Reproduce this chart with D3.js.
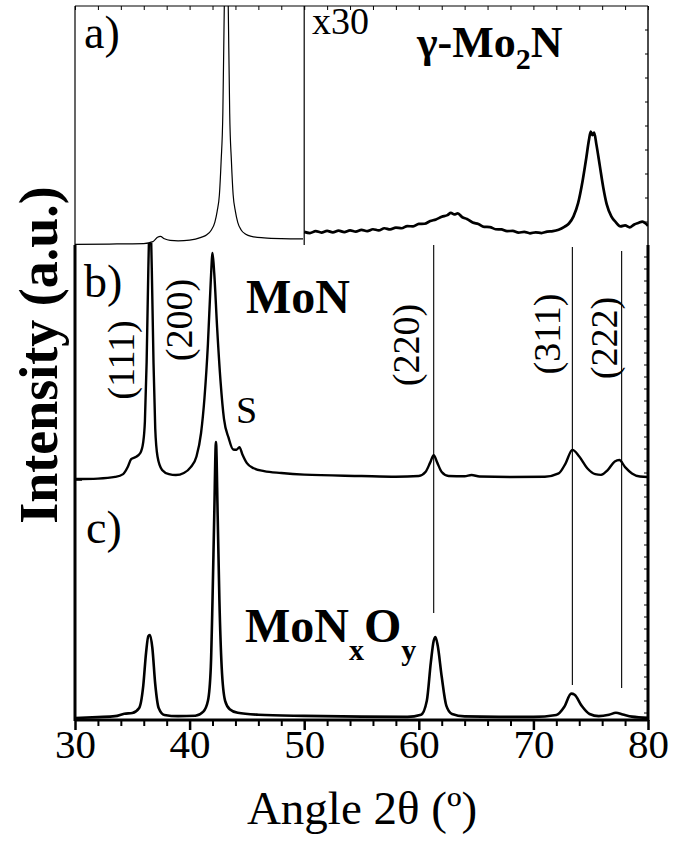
<!DOCTYPE html>
<html>
<head>
<meta charset="utf-8">
<script src="https://cdn.jsdelivr.net/npm/d3@7"></script>
<style>
  html, body { margin: 0; padding: 0; background: #fff; }
  svg { display: block; }
  text { font-family: "Liberation Serif", "Times New Roman", serif; fill: #000; }
</style>
</head>
<body>
<svg id="chart" width="673" height="847"></svg>
<script>
// ---------------- DATA ----------------
// Panel a) gamma-Mo2N, 30-50 deg part (full scale)
const aLeftAngle = [30, 33, 36, 36.8, 37.2, 37.45, 37.8, 38.3, 39, 40, 41, 41.5, 41.9, 42.2, 42.4, 42.6, 42.75, 42.9, 43.0, 43.1, 43.2, 43.3, 43.4, 43.5, 43.65, 43.8, 44.0, 44.2, 44.5, 44.9, 45.4, 46.5, 48, 49.9];
const aLeftInt   = [0.3, 0.4, 0.6, 1.4, 3.2, 3.6, 2.6, 1.9, 1.7, 2.0, 3.2, 4.3, 6.3, 9.5, 14, 21, 35, 55, 90, 130, 200, 130, 90, 55, 35, 21, 14, 9.5, 6.3, 4.5, 3.6, 3.0, 2.7, 2.6];
// Panel a) 50-80 deg part (x30)
const aRightAngle = [50, 50.5, 51, 51.5, 52, 52.5, 53, 53.5, 54, 54.5, 55, 55.5, 56, 56.5, 57, 57.5, 58, 58.5, 59, 59.5, 60, 60.5, 61, 61.5, 62, 62.5, 62.8, 63.1, 63.4, 63.8, 64.2, 64.7, 65.2, 65.7, 66.2, 66.7, 67.2, 67.7, 68.2, 68.7, 69.2, 69.7, 70.2, 70.7, 71.2, 71.7, 72.2, 72.7, 73.1, 73.5, 73.9, 74.3, 74.6, 74.85, 75.0, 75.15, 75.3, 75.5, 75.8, 76.1, 76.4, 76.8, 77.2, 77.6, 78.0, 78.4, 78.8, 79.2, 79.5, 79.8, 80];
const aRightInt   = [5.5, 5.0, 5.8, 5.2, 5.9, 5.3, 6.0, 5.4, 6.1, 5.6, 6.3, 5.8, 6.6, 6.1, 7.0, 6.5, 7.3, 7.0, 7.9, 7.8, 8.8, 8.9, 10.0, 10.7, 11.8, 12.5, 13.4, 12.8, 13.2, 11.6, 10.9, 9.4, 8.8, 7.6, 7.5, 6.6, 6.5, 5.8, 5.9, 5.2, 5.5, 4.9, 5.3, 5.0, 5.6, 5.8, 6.4, 7.6, 9.0, 12.0, 17.5, 27, 36, 44, 47.5, 46, 47, 42, 33, 24, 17, 12, 9.5, 7.8, 8.2, 7.4, 8.6, 9.3, 9.8, 9.0, 8.0];
// Panel b) MoN
const bAngle = [30, 32, 33.5, 34.2, 34.6, 34.9, 35.3, 35.7, 35.95, 36.1, 36.25, 36.4, 36.55, 36.7, 36.85, 37.0, 37.2, 37.6, 38.2, 38.8, 39.5, 40.1, 40.6, 41.0, 41.3, 41.6, 41.85, 42.0, 42.15, 42.4, 42.7, 43.0, 43.4, 43.8, 44.1, 44.35, 44.6, 45.0, 45.6, 46.5, 48, 50, 55, 58, 60, 60.6, 61.0, 61.3, 61.6, 62.0, 62.6, 64.0, 64.6, 65.3, 68, 71, 72.2, 72.8, 73.4, 74.0, 74.7, 75.4, 75.9, 76.5, 77.1, 77.5, 78.0, 78.6, 79.3, 80];
const bInt   = [0.4, 0.6, 1.3, 2.5, 5.5, 8.9, 9.8, 11.5, 16, 25, 50, 90, 115, 90, 50, 22, 10, 4.3, 2.5, 2.1, 3.0, 5.5, 10, 20, 35, 58, 85, 96.6, 88, 65, 42, 26, 18, 13.0, 12.9, 14.0, 11, 7.2, 5.0, 3.8, 3.0, 2.3, 1.7, 1.4, 1.7, 3.5, 7.5, 10.6, 7.5, 3.4, 1.7, 1.6, 2.1, 1.5, 1.3, 1.4, 2.8, 7, 12.8, 10, 5, 2.5, 2.2, 4.3, 7.9, 8.5, 5.5, 2.8, 1.5, 1.3];
// Panel c) MoNxOy
const cAngle = [30, 32, 33.5, 34.3, 35.0, 35.6, 35.95, 36.2, 36.4, 36.55, 36.75, 37.0, 37.3, 37.8, 39, 40.5, 41.2, 41.6, 41.85, 42.0, 42.15, 42.3, 42.45, 42.6, 42.8, 43.1, 43.5, 44.2, 46, 50, 55, 59, 60.2, 60.7, 61.05, 61.3, 61.45, 61.65, 62.0, 62.4, 62.9, 64, 67, 70, 72, 72.7, 73.3, 73.6, 74.2, 74.9, 75.7, 76.6, 77.2, 77.8, 78.6, 80];
const cInt   = [0.8, 1.2, 1.6, 2.6, 2.9, 5, 14, 28, 35, 35.4, 30, 15, 5, 2.1, 1.6, 1.8, 3.5, 8, 22, 50, 85, 115.8, 85, 50, 22, 8, 4.5, 3.0, 2.2, 1.7, 1.4, 1.3, 2.2, 8, 24, 33, 34.6, 31, 18, 6, 2.5, 1.5, 1.3, 1.3, 2.1, 5.5, 11, 10.5, 6, 2.5, 1.6, 2.2, 3.0, 2.3, 1.4, 0.9];

// Reflection markers (MoN)
const hklLabels = ["(111)", "(200)", "(220)", "(311)", "(222)"];
const refLineAngles = [61.3, 73.4, 77.7];

// Axis
const xTicks = [30, 40, 50, 60, 70, 80];
const xTickLabels = ["30", "40", "50", "60", "70", "80"];

// ---------------- LAYOUT ----------------
const svg = d3.select("#chart");
const L = 75, R = 648;
const panels = { a: [6, 245], b: [245, 480], c: [480, 720] };
const FONT = '"Liberation Serif", "Times New Roman", serif';

const x = d3.scaleLinear().domain([30, 80]).range([L, R]);
const ya = d3.scaleLinear().domain([0, 100]).range([panels.a[1], panels.a[0]]);
const yb = d3.scaleLinear().domain([0, 100]).range([panels.b[1], panels.b[0]]);
const yc = d3.scaleLinear().domain([0, 100]).range([panels.c[1], panels.c[0]]);

const defs = svg.append("defs");
defs.append("clipPath").attr("id", "clipA").append("rect")
  .attr("x", L).attr("y", panels.a[0]).attr("width", R - L).attr("height", panels.a[1] - panels.a[0] + 1);
defs.append("clipPath").attr("id", "clipB").append("rect")
  .attr("x", L).attr("y", panels.b[0] - 2).attr("width", R - L).attr("height", 300);

function series(ang, val) { return ang.map((a, i) => [a, val[i]]); }
function lineGen(ys) {
  return d3.line().x(d => x(d[0])).y(d => ys(d[1])).curve(d3.curveMonotoneX);
}

// ---- curves ----
svg.append("path").attr("clip-path", "url(#clipA)")
  .attr("d", lineGen(ya)(series(aLeftAngle, aLeftInt)))
  .attr("fill", "none").attr("stroke", "#000").attr("stroke-width", 1.2);
svg.append("path").attr("clip-path", "url(#clipA)")
  .attr("d", lineGen(ya)(series(aRightAngle, aRightInt)))
  .attr("fill", "none").attr("stroke", "#000").attr("stroke-width", 2.7).attr("stroke-linejoin", "round");
svg.append("path").attr("clip-path", "url(#clipB)")
  .attr("d", lineGen(yb)(series(bAngle, bInt)))
  .attr("fill", "none").attr("stroke", "#000").attr("stroke-width", 2.4);
svg.append("path")
  .attr("d", lineGen(yc)(series(cAngle, cInt)))
  .attr("fill", "none").attr("stroke", "#000").attr("stroke-width", 2.6);

// ---- reference lines ----
const refBottoms = [613, 685, 688];
const refTops = [245, 247, 251];
refLineAngles.forEach((a, i) => {
  svg.append("line").attr("x1", x(a)).attr("x2", x(a))
    .attr("y1", refTops[i]).attr("y2", refBottoms[i])
    .attr("stroke", "#000").attr("stroke-width", 1.1);
});

// ---- frame ----
svg.append("line").attr("x1", L).attr("x2", R).attr("y1", panels.a[0]).attr("y2", panels.a[0]).attr("stroke", "#000").attr("stroke-width", 1.2);
svg.append("line").attr("x1", L).attr("x2", L).attr("y1", panels.a[0]).attr("y2", panels.a[1]).attr("stroke", "#000").attr("stroke-width", 1.2);
svg.append("line").attr("x1", R).attr("x2", R).attr("y1", panels.a[0]).attr("y2", panels.a[1]).attr("stroke", "#000").attr("stroke-width", 1.4);
svg.append("line").attr("x1", x(50)).attr("x2", x(50)).attr("y1", panels.a[0]).attr("y2", panels.a[1]).attr("stroke", "#000").attr("stroke-width", 1.2);
const topAxis = d3.axisTop(x).tickValues(d3.range(30, 81, 2)).tickSize(-4).tickFormat("");
const gTop = svg.append("g").attr("transform", `translate(0,${panels.a[0]})`).call(topAxis);
gTop.select(".domain").remove();
gTop.selectAll("line").attr("stroke-width", 1);
d3.range(panels.a[0] + 24, panels.a[1], 24).forEach(yy => {
  svg.append("line").attr("x1", R - 3).attr("x2", R).attr("y1", yy).attr("y2", yy).attr("stroke", "#000").attr("stroke-width", 1);
});
svg.append("line").attr("x1", L).attr("x2", L).attr("y1", panels.b[0]).attr("y2", panels.c[1] + 1).attr("stroke", "#000").attr("stroke-width", 3);
svg.append("line").attr("x1", R).attr("x2", R).attr("y1", panels.b[0]).attr("y2", panels.c[1] + 1).attr("stroke", "#000").attr("stroke-width", 3);
d3.range(panels.b[0] + 12, panels.c[1], 12).forEach(yy => {
  svg.append("line").attr("x1", R - 4).attr("x2", R).attr("y1", yy).attr("y2", yy).attr("stroke", "#000").attr("stroke-width", 1);
});
svg.append("line").attr("x1", L).attr("x2", L + 7).attr("y1", panels.b[1]).attr("y2", panels.b[1]).attr("stroke", "#000").attr("stroke-width", 1.5);

// bottom axis
const bottomMajor = d3.axisBottom(x).tickValues(xTicks).tickSize(10).tickFormat((d, i) => xTickLabels[i]);
const gBot = svg.append("g").attr("transform", `translate(0,${panels.c[1]})`).call(bottomMajor);
gBot.select(".domain").attr("stroke-width", 3).attr("d", `M${L},0H${R}`);
gBot.selectAll(".tick line").attr("stroke-width", 2.5);
gBot.selectAll(".tick text").attr("font-family", FONT).attr("font-size", 41).attr("dy", "0.72em").attr("y", 8);
const bottomMinor = d3.axisBottom(x).tickValues(d3.range(32, 80, 2).filter(v => v % 10 !== 0)).tickSize(6).tickFormat("");
const gMin = svg.append("g").attr("transform", `translate(0,${panels.c[1]})`).call(bottomMinor);
gMin.select(".domain").remove();
gMin.selectAll(".tick line").attr("stroke-width", 2);

// axis titles
svg.append("text").attr("x", 362).attr("y", 824).attr("text-anchor", "middle")
  .attr("font-size", 47).text("Angle 2θ (º)");
svg.append("text").attr("transform", "translate(57,355) rotate(-90)").attr("text-anchor", "middle")
  .attr("font-size", 54).attr("font-weight", "bold").text("Intensity (a.u.)");

// panel labels
svg.append("text").attr("x", 84).attr("y", 48).attr("font-size", 46).text("a)");
svg.append("text").attr("x", 84).attr("y", 297).attr("font-size", 46).text("b)");
svg.append("text").attr("x", 86).attr("y", 543).attr("font-size", 46).text("c)");
svg.append("text").attr("x", 312).attr("y", 34).attr("font-size", 38).text("x30");

// phase names
const t1 = svg.append("text").attr("x", 417).attr("y", 57).attr("font-size", 44).attr("font-weight", "bold");
t1.append("tspan").text("γ-Mo");
t1.append("tspan").attr("font-size", 30).attr("dy", 12).text("2");
t1.append("tspan").attr("dy", -12).text("N");

svg.append("text").attr("x", 246).attr("y", 313).attr("font-size", 48).attr("font-weight", "bold").text("MoN");

const t3 = svg.append("text").attr("x", 245).attr("y", 642).attr("font-size", 48).attr("font-weight", "bold");
t3.append("tspan").text("MoN");
t3.append("tspan").attr("font-size", 30).attr("dy", 18).text("x");
t3.append("tspan").attr("dy", -18).text("O");
t3.append("tspan").attr("font-size", 30).attr("dy", 18).text("y");

svg.append("text").attr("x", 236).attr("y", 423).attr("font-size", 38).text("S");

// hkl labels (rotated)
const hklPos = [[134, 360], [192, 320], [419, 345], [560, 334], [617, 338]];
hklLabels.forEach((lab, i) => {
  svg.append("text").attr("transform", `translate(${hklPos[i][0]},${hklPos[i][1]}) rotate(-90)`)
    .attr("text-anchor", "middle").attr("font-size", 38).text(lab);
});
</script>
</body>
</html>
